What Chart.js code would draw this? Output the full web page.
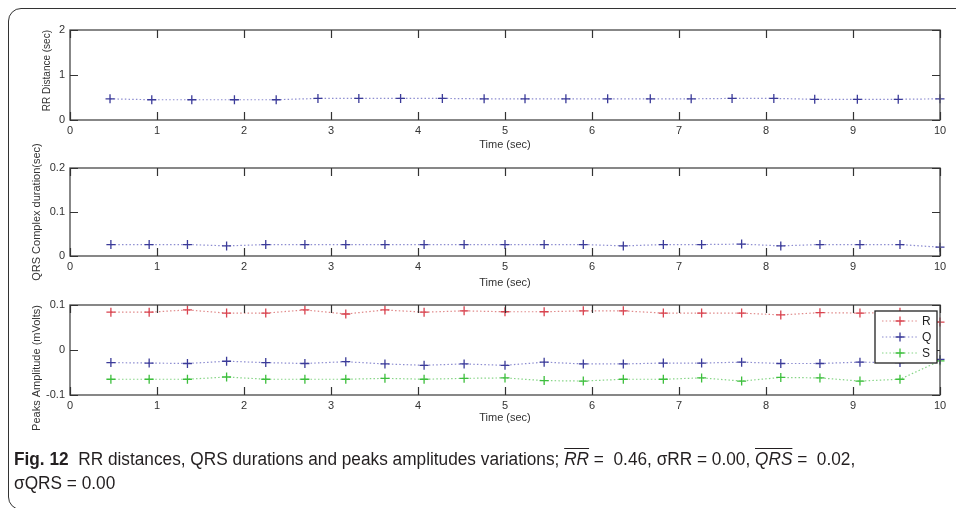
<!DOCTYPE html>
<html>
<head>
<meta charset="utf-8">
<script src="https://cdn.jsdelivr.net/npm/chart.js@4.4.0/dist/chart.umd.min.js"></script>
<style>
  body { margin: 0; background: #fff; width: 956px; height: 508px; overflow: hidden; position: relative; }
  .frame { position: absolute; left: 8px; top: 8px; width: 1000px; height: 500px; border: 1px solid #333; border-radius: 13px; }
  canvas { position: absolute; left: 0; top: 0; }
  .caption { position: absolute; left: 14px; top: 447px; font-family: "Liberation Sans", Arial, sans-serif; font-size: 18px; line-height: 24px; color: #231f20; white-space: nowrap; transform-origin: 0 0; }
  .caption b { font-weight: bold; }
  .ov { text-decoration: overline; font-style: italic; }
</style>
</head>
<body>
<div class="frame"></div>
<canvas id="rr" width="956" height="508"></canvas>
<canvas id="qrs" width="956" height="508"></canvas>
<canvas id="peaks" width="956" height="508"></canvas>
<div class="caption" id="cap"><span id="capLine"><b>Fig. 12</b>&nbsp; RR distances, QRS durations and peaks amplitudes variations; <span class="ov">RR</span> = &nbsp;0.46, σRR = 0.00, <span class="ov">QRS</span> = &nbsp;0.02,</span><br>σQRS = 0.00</div>
<script>
// beat times (sec)
const rrTimes = [0.46, 0.94, 1.40, 1.89, 2.37, 2.85, 3.32, 3.80, 4.28, 4.76, 5.23, 5.70, 6.18, 6.67, 7.14, 7.61, 8.09, 8.56, 9.05, 9.52, 10.0];
const rrDistance = [0.47, 0.45, 0.45, 0.45, 0.45, 0.48, 0.48, 0.48, 0.48, 0.47, 0.47, 0.47, 0.47, 0.47, 0.47, 0.48, 0.48, 0.46, 0.46, 0.46, 0.47];

const beatTimes = [0.47, 0.91, 1.35, 1.80, 2.25, 2.70, 3.17, 3.62, 4.07, 4.53, 5.00, 5.45, 5.90, 6.36, 6.82, 7.26, 7.72, 8.17, 8.62, 9.08, 9.54, 10.0];
const qrsDuration = [0.026, 0.026, 0.026, 0.023, 0.026, 0.026, 0.026, 0.026, 0.026, 0.026, 0.026, 0.026, 0.026, 0.023, 0.026, 0.026, 0.027, 0.023, 0.026, 0.026, 0.026, 0.020];

const peakR = [0.084, 0.084, 0.089, 0.082, 0.082, 0.089, 0.080, 0.089, 0.084, 0.087, 0.085, 0.085, 0.087, 0.087, 0.082, 0.082, 0.082, 0.078, 0.083, 0.082, 0.084, 0.062];
const peakQ = [-0.028, -0.029, -0.030, -0.025, -0.028, -0.030, -0.026, -0.031, -0.034, -0.031, -0.034, -0.027, -0.031, -0.031, -0.029, -0.029, -0.027, -0.030, -0.030, -0.027, -0.028, -0.021];
const peakS = [-0.065, -0.065, -0.065, -0.060, -0.065, -0.065, -0.065, -0.063, -0.065, -0.063, -0.062, -0.068, -0.069, -0.065, -0.065, -0.062, -0.069, -0.061, -0.062, -0.069, -0.065, -0.024];

const timeTicks = [0, 1, 2, 3, 4, 5, 6, 7, 8, 9, 10];
const rrTicks = [0, 1, 2];
const qrsTicks = [0, 0.1, 0.2];
const ampTicks = [-0.1, 0, 0.1];

Chart.defaults.font.family = '"Liberation Sans", Arial, sans-serif';

const xy = (xs, ys) => xs.map((x, i) => ({ x: x, y: ys[i] }));

function series(label, xs, ys, mark, dots) {
  return {
    label: label,
    data: xy(xs, ys),
    showLine: true,
    borderColor: dots,
    borderWidth: 1.2,
    borderDash: [1.5, 2.2],
    pointStyle: 'cross',
    pointRadius: 4.5,
    pointBorderWidth: 1.3,
    pointBorderColor: mark,
    clip: false
  };
}

// matlab style box with inward ticks
const matlabBox = {
  id: 'matlabBox',
  afterDatasetsDraw(chart) {
    const { ctx, chartArea: a, scales: { x, y } } = chart;
    ctx.save();
    ctx.strokeStyle = '#555';
    ctx.lineWidth = 1.4;
    ctx.strokeRect(a.left, a.top, a.width, a.height);
    ctx.strokeStyle = '#333';
    ctx.lineWidth = 1.2;
    ctx.beginPath();
    x.ticks.forEach(t => {
      const px = Math.round(x.getPixelForValue(t.value)) + 0.5;
      ctx.moveTo(px, a.bottom); ctx.lineTo(px, a.bottom - 8);
      ctx.moveTo(px, a.top); ctx.lineTo(px, a.top + 8);
    });
    y.ticks.forEach(t => {
      const py = Math.round(y.getPixelForValue(t.value)) + 0.5;
      ctx.moveTo(a.left, py); ctx.lineTo(a.left + 8, py);
      ctx.moveTo(a.right, py); ctx.lineTo(a.right - 8, py);
    });
    ctx.stroke();
    ctx.restore();
  }
};

const boxLegend = {
  id: 'boxLegend',
  afterDraw(chart) {
    const { ctx, chartArea: a } = chart;
    const w = 62, h = 52;
    const left = a.right - w - 3, top = a.top + 6;
    ctx.save();
    ctx.fillStyle = '#fff';
    ctx.fillRect(left, top, w, h);
    ctx.strokeStyle = '#222';
    ctx.lineWidth = 1.3;
    ctx.strokeRect(left, top, w, h);
    chart.data.datasets.forEach((ds, i) => {
      const cy = top + 10 + i * 16;
      ctx.setLineDash([1.5, 2.2]);
      ctx.strokeStyle = ds.borderColor;
      ctx.lineWidth = 1.2;
      ctx.beginPath(); ctx.moveTo(left + 7, cy); ctx.lineTo(left + 42, cy); ctx.stroke();
      ctx.setLineDash([]);
      ctx.strokeStyle = ds.pointBorderColor;
      ctx.lineWidth = 1.3;
      ctx.beginPath();
      ctx.moveTo(left + 25 - 4.5, cy); ctx.lineTo(left + 25 + 4.5, cy);
      ctx.moveTo(left + 25, cy - 4.5); ctx.lineTo(left + 25, cy + 4.5);
      ctx.stroke();
      ctx.fillStyle = '#222';
      ctx.font = '12px "Liberation Sans", Arial, sans-serif';
      ctx.textBaseline = 'middle';
      ctx.fillText(ds.label, left + 47, cy + 1);
    });
    ctx.restore();
  }
};

const fmt = v => String(+v.toFixed(2));

function panel(id, datasets, c) {
  return new Chart(document.getElementById(id), {
    type: 'scatter',
    data: { datasets: datasets },
    options: {
      responsive: false,
      animation: false,
      events: [],
      layout: { padding: { top: c.top, bottom: c.bottom, left: 0, right: 16 } },
      plugins: { legend: { display: false }, tooltip: { enabled: false } },
      scales: {
        x: {
          type: 'linear', min: 0, max: 10,
          afterBuildTicks: s => { s.ticks = timeTicks.map(v => ({ value: v })); },
          afterFit: s => { s.height = c.xh; },
          grid: { display: false, drawTicks: false },
          border: { display: false },
          ticks: { padding: 4, color: '#333', font: { size: 11 }, maxRotation: 0, autoSkip: false, callback: fmt },
          title: { display: true, text: 'Time (sec)', color: '#333', font: { size: 11 }, padding: { top: 0, bottom: c.xtPad } }
        },
        y: {
          min: c.ticks[0], max: c.ticks[c.ticks.length - 1],
          afterBuildTicks: s => { s.ticks = c.ticks.map(v => ({ value: v })); },
          afterFit: s => { s.width = 70; },
          grid: { display: false, drawTicks: false },
          border: { display: false },
          ticks: { padding: 5, color: '#333', font: { size: 11 }, callback: fmt },
          title: { display: true, text: c.yTitle, align: c.yAlign, color: '#333', font: { size: c.ytSize }, padding: { top: c.ytPad, bottom: 0 } }
        }
      }
    },
    plugins: c.legend ? [matlabBox, boxLegend] : [matlabBox]
  });
}

panel('rr', [series('RR', rrTimes, rrDistance, '#3b3b99', '#8c8cd0')],
  { top: 30, bottom: 352, xh: 36, xtPad: 4.4, ticks: rrTicks, yTitle: 'RR Distance (sec)', yAlign: 'end', ytSize: 10, ytPad: 41 });

panel('qrs', [series('QRS', beatTimes, qrsDuration, '#3b3b99', '#8c8cd0')],
  { top: 168, bottom: 216, xh: 36, xtPad: 2.4, ticks: qrsTicks, yTitle: 'QRS Complex duration(sec)', yAlign: 'center', ytSize: 11, ytPad: 30.4 });

panel('peaks', [
    series('R', beatTimes, peakR, '#d9434f', '#e08a8a'),
    series('Q', beatTimes, peakQ, '#3b3b99', '#8c8cd0'),
    series('S', beatTimes, peakS, '#3dbf3d', '#86d586')
  ],
  { top: 305, bottom: 83, xh: 30, xtPad: 0.4, ticks: ampTicks, yTitle: 'Peaks Amplitude (mVolts)', yAlign: 'end', ytSize: 11, ytPad: 30.4, legend: true });

// squeeze the caption to the printed width of the figure caption
const capLine = document.getElementById('capLine');
const capW = capLine.getBoundingClientRect().width;
document.getElementById('cap').style.transform = 'scaleX(' + (841 / capW).toFixed(3) + ')';
</script>
</body>
</html>
